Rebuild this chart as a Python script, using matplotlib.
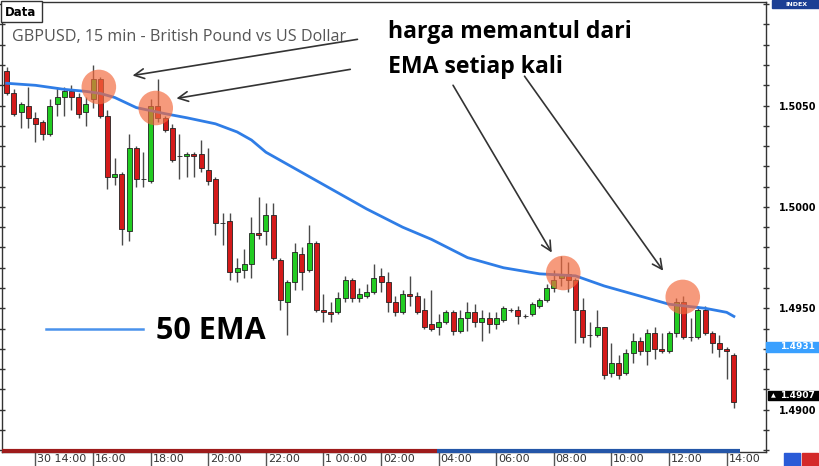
import numpy as np
import matplotlib
matplotlib.use("Agg")
import matplotlib.pyplot as plt
from matplotlib import transforms
from matplotlib.patches import Rectangle
from matplotlib.lines import Line2D
from matplotlib.ticker import MultipleLocator, FixedLocator, FormatStrFormatter

# GBPUSD 15 min candles, 30 13:00 -> 1 14:15
opens = [1.5067, 1.5056, 1.5047, 1.5050, 1.5044, 1.5042, 1.5036, 1.5051, 1.5054, 1.5057,
         1.5054, 1.5047, 1.5053, 1.5063, 1.5045, 1.5015, 1.5016, 1.4988, 1.5029, 1.5014,
         1.5013, 1.5050, 1.5044, 1.5039, 1.5025, 1.5025, 1.5026, 1.5026, 1.5018, 1.5014,
         1.4992, 1.4993, 1.4968, 1.4969, 1.4972, 1.4987, 1.4988, 1.4996, 1.4974, 1.4953,
         1.4963, 1.4977, 1.4969, 1.4982, 1.4949, 1.4948, 1.4948, 1.4955, 1.4964, 1.4955,
         1.4956, 1.4958, 1.4966, 1.4963, 1.4953, 1.4948, 1.4957, 1.4956, 1.4949, 1.4942,
         1.4941, 1.4943, 1.4948, 1.4939, 1.4945, 1.4948, 1.4943, 1.4945, 1.4942, 1.4944,
         1.4949, 1.4949, 1.4946, 1.4947, 1.4951, 1.4954, 1.4960, 1.4965, 1.4967, 1.4964,
         1.4949, 1.4937, 1.4937, 1.4941, 1.4918, 1.4923, 1.4918, 1.4928, 1.4934, 1.4929,
         1.4938, 1.4930, 1.4929, 1.4938, 1.4953, 1.4936, 1.4936, 1.4949, 1.4938, 1.4933,
         1.4930, 1.4927]
highs = [1.5069, 1.5058, 1.5052, 1.5059, 1.5047, 1.5043, 1.5053, 1.5059, 1.5059, 1.5060,
         1.5056, 1.5054, 1.5070, 1.5064, 1.5048, 1.5024, 1.5017, 1.5036, 1.5030, 1.5027,
         1.5053, 1.5063, 1.5045, 1.5041, 1.5036, 1.5027, 1.5027, 1.5033, 1.5029, 1.5015,
         1.4997, 1.4997, 1.4975, 1.4979, 1.4995, 1.5005, 1.5002, 1.5002, 1.4975, 1.4964,
         1.4982, 1.4980, 1.4991, 1.4983, 1.4957, 1.4953, 1.4958, 1.4966, 1.4965, 1.4960,
         1.4962, 1.4972, 1.4970, 1.4968, 1.4956, 1.4959, 1.4966, 1.4958, 1.4955, 1.4959,
         1.4947, 1.4949, 1.4949, 1.4949, 1.4953, 1.4952, 1.4949, 1.4948, 1.4948, 1.4951,
         1.4950, 1.4951, 1.4947, 1.4953, 1.4955, 1.4962, 1.4969, 1.4976, 1.4973, 1.4965,
         1.4955, 1.4943, 1.4949, 1.4941, 1.4933, 1.4927, 1.4930, 1.4938, 1.4936, 1.4940,
         1.4941, 1.4938, 1.4939, 1.4955, 1.4956, 1.4945, 1.4951, 1.4951, 1.4939, 1.4937,
         1.4931, 1.4928]
lows = [1.5055, 1.5045, 1.5039, 1.5039, 1.5032, 1.5033, 1.5035, 1.5045, 1.5045, 1.5048,
        1.5044, 1.5040, 1.5049, 1.5044, 1.5009, 1.5011, 1.4981, 1.4983, 1.5010, 1.5010,
        1.5012, 1.5042, 1.5037, 1.5022, 1.5014, 1.5015, 1.5015, 1.5017, 1.5011, 1.4986,
        1.4981, 1.4964, 1.4963, 1.4965, 1.4965, 1.4984, 1.4981, 1.4974, 1.4949, 1.4937,
        1.4959, 1.4959, 1.4968, 1.4948, 1.4943, 1.4943, 1.4947, 1.4953, 1.4953, 1.4953,
        1.4955, 1.4957, 1.4958, 1.4948, 1.4946, 1.4947, 1.4951, 1.4947, 1.4940, 1.4939,
        1.4937, 1.4942, 1.4937, 1.4938, 1.4939, 1.4941, 1.4934, 1.4938, 1.4940, 1.4943,
        1.4948, 1.4942, 1.4945, 1.4946, 1.4950, 1.4953, 1.4958, 1.4961, 1.4958, 1.4933,
        1.4933, 1.4931, 1.4936, 1.4915, 1.4916, 1.4915, 1.4917, 1.4923, 1.4927, 1.4922,
        1.4925, 1.4928, 1.4928, 1.4936, 1.4935, 1.4934, 1.4935, 1.4937, 1.4928, 1.4926,
        1.4915, 1.4901]
closes = [1.5056, 1.5046, 1.5051, 1.5044, 1.5041, 1.5036, 1.5050, 1.5054, 1.5057, 1.5054,
          1.5046, 1.5051, 1.5063, 1.5045, 1.5015, 1.5016, 1.4989, 1.5029, 1.5014, 1.5014,
          1.5050, 1.5044, 1.5038, 1.5023, 1.5025, 1.5026, 1.5025, 1.5019, 1.5013, 1.4992,
          1.4992, 1.4968, 1.4970, 1.4972, 1.4987, 1.4986, 1.4996, 1.4975, 1.4954, 1.4963,
          1.4978, 1.4968, 1.4982, 1.4949, 1.4948, 1.4947, 1.4955, 1.4964, 1.4955, 1.4957,
          1.4958, 1.4965, 1.4963, 1.4953, 1.4948, 1.4957, 1.4956, 1.4948, 1.4941, 1.4940,
          1.4943, 1.4948, 1.4939, 1.4945, 1.4948, 1.4943, 1.4945, 1.4942, 1.4945, 1.4950,
          1.4949, 1.4946, 1.4946, 1.4952, 1.4954, 1.4960, 1.4964, 1.4967, 1.4964, 1.4949,
          1.4936, 1.4937, 1.4941, 1.4917, 1.4923, 1.4917, 1.4928, 1.4934, 1.4929, 1.4938,
          1.4930, 1.4929, 1.4938, 1.4953, 1.4936, 1.4936, 1.4949, 1.4938, 1.4933, 1.4930,
          1.4929, 1.4904]

# 50 EMA at some candles
ema_idx = [0, 4, 8, 11, 13, 15, 18, 22, 25, 29, 32, 34, 36, 38, 41, 46, 50, 55, 59,
           64, 69, 74, 79, 83, 88, 92, 97, 100, 101]
ema_vals = [1.5061, 1.5060, 1.5058, 1.5057, 1.5056, 1.5054, 1.5049, 1.5046, 1.5044,
            1.5041, 1.5037, 1.5033, 1.5027, 1.5023, 1.5017, 1.5007, 1.4999, 1.4990,
            1.4984, 1.4975, 1.4970, 1.4967, 1.4966, 1.4961, 1.4956, 1.4952, 1.4950,
            1.4948, 1.4946]

time_ticks = [4, 12, 20, 28, 36, 44, 52, 60, 68, 76, 84, 92, 100]
time_labels = ["30 14:00", "16:00", "18:00", "20:00", "22:00", "1 00:00", "02:00",
               "04:00", "06:00", "08:00", "10:00", "12:00", "14:00"]
price_ticks = [1.4900, 1.4950, 1.5000, 1.5050]

# bounce points (candle index, price)
bounce_idx = [12.8, 20.7, 77.3, 93.9]
bounce_px = [1.50592, 1.50488, 1.49674, 1.49556]

W, H = 820, 466
fig = plt.figure(figsize=(W / 100, H / 100), dpi=100)
ax = fig.add_axes([2 / W, 1 - 452 / H, 764 / W, 450 / H])

x = np.arange(len(opens))
o = np.array(opens)
c = np.array(closes)
up = c >= o

ax.vlines(x, lows, highs, color="#4a4a4a", lw=1.0, zorder=2)
cols = np.where(up, "#22cc22", "#d41a1a")
ax.bar(x, c - o, bottom=o, width=0.68, color=cols, edgecolor="#222222",
       linewidth=0.6, zorder=3)

ax.plot(ema_idx, ema_vals, color="#2f7de6", lw=2.0, zorder=4)

ax.scatter(bounce_idx, bounce_px, s=620, color="#f36a3e", alpha=0.68,
           edgecolors="none", zorder=6)

ax.set_xlim(-0.65, 105.46)
ax.set_ylim(1.48791, 1.51011)

# right price axis
ax.yaxis.tick_right()
ax.yaxis.set_major_locator(FixedLocator(price_ticks))
ax.yaxis.set_minor_locator(MultipleLocator(0.001))
ax.yaxis.set_major_formatter(FormatStrFormatter("%.4f"))
ax.tick_params(axis="y", which="both", left=True, right=True, direction="inout",
               length=4, width=1, color="#333333", labelsize=7, pad=7)
for lab in ax.get_yticklabels():
    lab.set_fontweight("bold")

# time axis: separator ticks, labels to the right of them
ax.set_xticks(time_ticks)
ax.set_xticklabels([])
ax.tick_params(axis="x", direction="out", length=10, width=1, color="#555555")
xt = ax.get_xaxis_transform()
for t, lab in zip(time_ticks, time_labels):
    ax.text(t + 0.25, -0.016, lab, transform=xt, ha="left", va="center",
            fontsize=8, color="#333333", clip_on=False)

# session bar on the bottom edge
ax.plot([-0.65, 59.8], [0.003, 0.003], transform=xt, color="#9e1b1b", lw=3,
        solid_capstyle="butt", clip_on=False, zorder=7)
ax.plot([59.8, 101.8], [0.003, 0.003], transform=xt, color="#2456a8", lw=3,
        solid_capstyle="butt", clip_on=False, zorder=7)

for s in ax.spines.values():
    s.set_color("#333333")
    s.set_linewidth(1)

# price boxes on the right axis
bt = transforms.blended_transform_factory(ax.transAxes, ax.transData)
ax.add_patch(Rectangle((1.0, 1.4931 - 0.00025), 0.0707, 0.0005, transform=bt,
                       color="#39a0ff", clip_on=False, zorder=8))
ax.text(1.019, 1.4931, "1.4931", transform=bt, color="white", fontsize=6.5,
        fontweight="bold", va="center", ha="left", clip_on=False, zorder=9)
ax.add_patch(Rectangle((1.003, 1.4907 - 0.00023), 0.0677, 0.00046, transform=bt,
                       color="black", clip_on=False, zorder=8))
ax.text(1.006, 1.4907, "\u25b2", transform=bt, color="white", fontsize=4.5,
        va="center", ha="left", clip_on=False, zorder=9)
ax.text(1.019, 1.4907, "1.4907", transform=bt, color="white", fontsize=6.5,
        fontweight="bold", va="center", ha="left", clip_on=False, zorder=9)

# arrows
arrows = [((49.1, 1.50829), (17.1, 1.50646)),
          ((48.1, 1.50681), (23.2, 1.50533)),
          ((61.8, 1.50612), (75.9, 1.49763)),
          ((71.7, 1.50656), (91.4, 1.49674))]
for tail, tip in arrows:
    ax.annotate("", xy=tip, xytext=tail,
                arrowprops=dict(arrowstyle="->,head_length=0.7,head_width=0.35",
                                color="#333333", lw=1.2), zorder=10)

# texts
fig.text(12 / W, 1 - 37 / H, "GBPUSD, 15 min - British Pound vs US Dollar",
         fontsize=11.6, color="#555555", family="Open Sans", va="center")
fig.text(388 / W, 1 - 32 / H, "harga memantul dari", fontsize=16.6,
         fontweight="bold", family="Open Sans", va="center")
fig.text(388 / W, 1 - 67 / H, "EMA setiap kali", fontsize=16.6,
         fontweight="bold", family="Open Sans", va="center")
fig.text(156 / W, 1 - 331 / H, "50 EMA", fontsize=22,
         fontweight="bold", family="Open Sans", va="center")
fig.add_artist(Line2D([46 / W, 143 / W], [1 - 329 / H, 1 - 329 / H],
                      color="#4a92ec", lw=1.8))

# "Data" box and INDEX tag
fig.add_artist(Rectangle((0.5 / W, 1 - 22 / H), 42 / W, 21.5 / H, facecolor="white",
                         edgecolor="#333333", lw=1, transform=fig.transFigure))
fig.text(5 / W, 1 - 12 / H, "Data", fontsize=8.5, fontweight="bold", va="center")
fig.add_artist(Rectangle((772 / W, 1 - 8 / H), 48 / W, 8 / H, color="#1c3f94",
                         transform=fig.transFigure))
fig.text(796 / W, 1 - 4 / H, "INDEX", fontsize=4.5, color="white", ha="center",
         va="center", fontweight="bold")

# little buttons bottom right
fig.add_artist(Rectangle((784 / W, 0), 16 / W, 13 / H, color="#2a5bd7",
                         transform=fig.transFigure))
fig.add_artist(Rectangle((802 / W, 0), 16 / W, 13 / H, color="#d42a2a",
                         transform=fig.transFigure))

fig.savefig("out.png", dpi=100)
